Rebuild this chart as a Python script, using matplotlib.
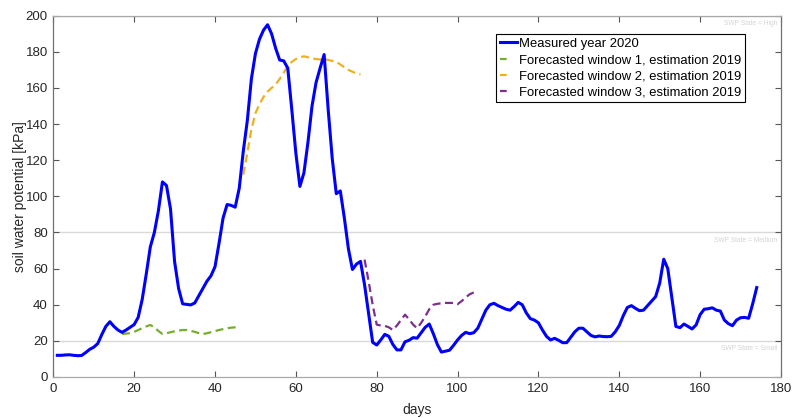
import matplotlib
matplotlib.use("Agg")
import matplotlib.pyplot as plt
from matplotlib.lines import Line2D

plt.rcParams['font.family'] = ['Liberation Sans', 'DejaVu Sans']

# Measured soil water potential, daily (days 1..174)
measured_days = list(range(1, 175))
measured_kpa = [
    12.0, 12.0, 12.2, 12.3, 12.0, 11.8, 11.9, 13.5, 15.3, 16.5,
    18.5, 23.5, 28.0, 30.6, 28.0, 26.0, 24.7, 26.0, 27.5, 29.0,
    33.0, 43.0, 57.0, 72.0, 80.0, 92.0, 108.0, 106.0, 93.0, 64.0,
    49.0, 40.5, 40.2, 39.9, 41.0, 45.0, 49.0, 53.0, 56.0, 61.0,
    74.0, 88.0, 95.5, 95.0, 94.0, 104.5, 125.0, 142.0, 165.0, 179.0,
    187.0, 192.0, 195.0, 190.0, 182.0, 175.5, 175.0, 171.0, 148.0, 124.0,
    105.5, 113.0, 130.0, 150.0, 163.0, 171.0, 178.5, 148.0, 121.0, 101.5,
    103.0, 88.0, 71.0, 59.5, 62.5, 64.0, 51.0, 35.0, 19.2, 17.7,
    20.5, 23.6, 22.5, 18.0, 15.0, 15.0, 19.5, 20.3, 21.8, 21.5,
    24.5, 27.5, 29.3, 24.0, 18.0, 13.8, 14.3, 14.8, 17.5, 20.5,
    23.0, 24.7, 24.0, 24.5, 27.0, 32.0, 37.0, 40.0, 40.8, 39.5,
    38.5, 37.5, 37.0, 39.0, 41.3, 40.0, 35.5, 32.3, 31.5, 30.0,
    26.0, 22.5, 20.5, 21.4, 20.3, 19.0, 19.0, 22.0, 25.0, 27.0,
    27.0, 25.0, 23.0, 22.2, 22.7, 22.4, 22.3, 22.5, 25.0, 28.5,
    34.0, 38.5, 39.5, 38.0, 36.7, 37.0, 39.5, 42.0, 44.5, 52.0,
    65.2, 60.0, 44.0, 28.0, 27.3, 29.3, 28.0, 26.6, 28.8, 34.5,
    37.5, 37.8, 38.3, 37.0, 36.5, 31.5, 29.5, 28.4, 31.5, 32.8,
    33.0, 32.5, 40.5, 49.5,
]

# Forecast window 1 (days 17..46)
fc1_days = list(range(17, 47))
fc1_kpa = [
    23.8, 24.0, 24.3, 25.0, 26.0, 27.0, 28.0, 28.8, 27.5, 25.5,
    23.8, 24.2, 24.8, 25.3, 25.7, 26.0, 26.0, 25.5, 25.0, 24.3,
    23.8, 24.2, 24.8, 25.4, 26.0, 26.5, 27.0, 27.3, 27.5, 27.8,
]

# Forecast window 2 (days 47..76)
fc2_days = list(range(47, 77))
fc2_kpa = [
    112.0, 124.0, 137.0, 146.0, 151.0, 155.0, 158.0, 160.0, 162.0, 165.0,
    168.5, 172.0, 174.5, 176.0, 177.0, 177.5, 177.0, 176.3, 176.0, 175.8,
    176.0, 175.5, 175.0, 174.5, 173.0, 171.5, 170.0, 169.0, 168.0, 167.5,
]

# Forecast window 3 (days 77..105)
fc3_days = list(range(77, 106))
fc3_kpa = [
    65.0, 53.0, 40.0, 29.0, 28.5, 28.3, 27.5, 26.0, 28.5, 31.5,
    34.5, 32.0, 29.0, 27.0, 30.0, 33.5, 37.5, 40.0, 40.5, 40.8,
    41.0, 41.0, 41.0, 40.3, 42.0, 44.0, 45.8, 46.8, 47.6,
]

# SWP state thresholds
state_levels = [200, 80, 20]
state_labels = ['SWP State = High', 'SWP State = Medium', 'SWP State = Small']

series_labels = [
    'Measured year 2020',
    'Forecasted window 1, estimation 2019',
    'Forecasted window 2, estimation 2019',
    'Forecasted window 3, estimation 2019',
]

c_blue = (0, 0, 1)
c_green = (0.466, 0.674, 0.188)
c_yellow = (0.929, 0.694, 0.125)
c_purple = (0.494, 0.184, 0.556)
text_col = '#262626'

fig = plt.figure(figsize=(7.94, 4.18), dpi=100)
ax = fig.add_axes([0.0671, 0.0981, 0.9165, 0.8643])

for lvl, lab in zip(state_levels, state_labels):
    ax.axhline(lvl, color='#d9d9d9', lw=1.0, zorder=1)
    ax.annotate(lab, xy=(1, lvl), xycoords=('axes fraction', 'data'),
                xytext=(-2.5, -3), textcoords='offset points',
                ha='right', va='top', fontsize=4.8, color='#d4d4d4')

dash = (3.6, 2.0)
ax.plot(measured_days, measured_kpa, color=c_blue, lw=2.2, zorder=5)
ax.plot(fc1_days, fc1_kpa, color=c_green, lw=1.6, dashes=dash, zorder=4)
ax.plot(fc2_days, fc2_kpa, color=c_yellow, lw=1.6, dashes=dash, zorder=4)
ax.plot(fc3_days, fc3_kpa, color=c_purple, lw=1.6, dashes=dash, zorder=4)

ax.set_xlim(0, 180)
ax.set_ylim(0, 200)
ax.set_xticks(range(0, 181, 20))
ax.set_yticks(range(0, 201, 20))
ax.tick_params(direction='in', length=4, width=0.8, color='#555555',
               labelsize=9.5, labelcolor=text_col, top=True, right=True, pad=4)
for side in ['left', 'right']:
    ax.spines[side].set_color('#707070')
    ax.spines[side].set_linewidth(0.9)
for side in ['top', 'bottom']:
    ax.spines[side].set_color('#a8a8a8')
    ax.spines[side].set_linewidth(0.9)

ax.set_xlabel('days', fontsize=10, color=text_col, labelpad=6)
ax.set_ylabel('soil water potential [kPa]', fontsize=10, color=text_col, labelpad=-1)

handles = [
    Line2D([], [], color=c_blue, lw=2.2),
    Line2D([], [], color=c_green, lw=1.6, dashes=(3.0, 20)),
    Line2D([], [], color=c_yellow, lw=1.6, dashes=(3.0, 20)),
    Line2D([], [], color=c_purple, lw=1.6, dashes=(3.0, 20)),
]
leg = ax.legend(handles, series_labels, loc='upper right',
                bbox_to_anchor=(0.9505, 0.9494), borderaxespad=0,
                fontsize=9.4, frameon=True, fancybox=False, framealpha=1,
                edgecolor='black', handlelength=1.35, handletextpad=0.12,
                labelspacing=0.32, borderpad=0.28)
leg.get_frame().set_linewidth(0.8)

fig.savefig('out.png', dpi=100)
